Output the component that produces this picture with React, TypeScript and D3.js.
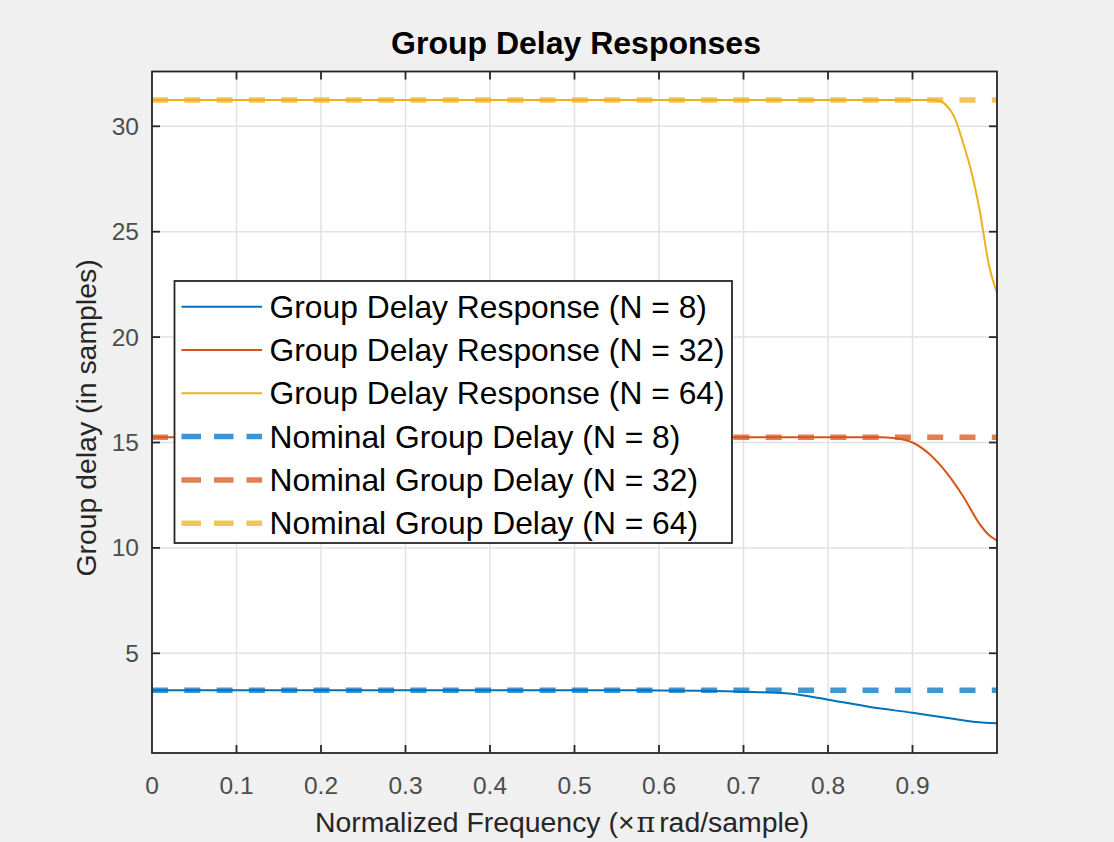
import * as d3 from "d3";

const freqN8 = [0, 0.55, 0.6, 0.65, 0.7, 0.75, 0.8, 0.85, 0.9, 0.95, 0.975, 1.0];
const delayN8 = [3.25, 3.25, 3.24, 3.22, 3.18, 3.1, 2.8, 2.45, 2.18, 1.88, 1.74, 1.68];

const freqN32 = [0, 0.86, 0.88, 0.9, 0.92, 0.94, 0.96, 0.98, 0.99, 1.0];
const delayN32 = [15.25, 15.25, 15.2, 15.0, 14.45, 13.58, 12.44, 11.1, 10.62, 10.35];

const freqN64 = [0, 0.92, 0.93, 0.94, 0.95, 0.96, 0.97, 0.98, 0.99, 1.0];
const delayN64 = [31.25, 31.25, 31.22, 31.0, 30.4, 29.2, 27.8, 25.9, 23.5, 22.09];

const nominalDelays = [3.25, 15.25, 31.25];

const seriesNames = [
  "Group Delay Response (N = 8)",
  "Group Delay Response (N = 32)",
  "Group Delay Response (N = 64)",
  "Nominal Group Delay (N = 8)",
  "Nominal Group Delay (N = 32)",
  "Nominal Group Delay (N = 64)",
];

const xTicks = [0, 0.1, 0.2, 0.3, 0.4, 0.5, 0.6, 0.7, 0.8, 0.9];
const yTicks = [5, 10, 15, 20, 25, 30];

const colors = ["#0072BD", "#D95319", "#EDB120"];

const width = 1114;
const height = 842;
const margin = { top: 71.5, right: 117, bottom: 89, left: 152 };

export default function App() {
  const boundsWidth = width - margin.left - margin.right;
  const boundsHeight = height - margin.top - margin.bottom;

  const xScale = d3.scaleLinear().domain([0, 1]).range([0, boundsWidth]);
  const yScale = d3.scaleLinear().domain([0.27, 32.6]).range([boundsHeight, 0]);

  const line = d3
    .line<[number, number]>()
    .x((d) => xScale(d[0]))
    .y((d) => yScale(d[1]))
    .curve(d3.curveMonotoneX);

  const responses = [
    d3.zip(freqN8, delayN8) as [number, number][],
    d3.zip(freqN32, delayN32) as [number, number][],
    d3.zip(freqN64, delayN64) as [number, number][],
  ];

  const axisColor = "#262626";
  const tickLen = 8;
  const font = "'Liberation Sans', Arial, sans-serif";

  const legend = { x: 174.5, y: 281, w: 557.5, h: 262, row: 43.3 };

  return (
    <div style={{ position: "fixed", left: 0, top: 0 }}>
      <svg width={width} height={height} style={{ display: "block", fontFamily: font }}>
        <rect width={width} height={height} fill="#f0f0f0" />
        <text x={576} y={54} textAnchor="middle" fontSize={32} fontWeight="bold" fill="#000">
          Group Delay Responses
        </text>
        <g transform={`translate(${margin.left},${margin.top})`}>
          <rect width={boundsWidth} height={boundsHeight} fill="#fff" />
          {/* grid */}
          {xTicks.slice(1).map((t) => (
            <line
              key={"gx" + t}
              x1={xScale(t)}
              x2={xScale(t)}
              y1={0}
              y2={boundsHeight}
              stroke="#e2e2e2"
              strokeWidth={1.5}
            />
          ))}
          {yTicks.map((t) => (
            <line
              key={"gy" + t}
              x1={0}
              x2={boundsWidth}
              y1={yScale(t)}
              y2={yScale(t)}
              stroke="#e2e2e2"
              strokeWidth={1.5}
            />
          ))}
          {/* responses */}
          {responses.map((d, i) => (
            <path key={"r" + i} d={line(d) || ""} fill="none" stroke={colors[i]} strokeWidth={2} />
          ))}
          {/* nominal */}
          {nominalDelays.map((v, i) => (
            <line
              key={"n" + i}
              x1={0}
              x2={boundsWidth}
              y1={yScale(v)}
              y2={yScale(v)}
              stroke={colors[i]}
              strokeOpacity={0.75}
              strokeWidth={5.5}
              strokeDasharray="16,16.3"
            />
          ))}
          {/* frame */}
          <rect width={boundsWidth} height={boundsHeight} fill="none" stroke={axisColor} strokeWidth={1.8} />
          {xTicks.slice(1).map((t) => (
            <g key={"tx" + t}>
              <line x1={xScale(t)} x2={xScale(t)} y1={boundsHeight} y2={boundsHeight - tickLen} stroke={axisColor} strokeWidth={1.8} />
              <line x1={xScale(t)} x2={xScale(t)} y1={0} y2={tickLen} stroke={axisColor} strokeWidth={1.8} />
            </g>
          ))}
          {yTicks.map((t) => (
            <g key={"ty" + t}>
              <line x1={0} x2={tickLen} y1={yScale(t)} y2={yScale(t)} stroke={axisColor} strokeWidth={1.8} />
              <line x1={boundsWidth} x2={boundsWidth - tickLen} y1={yScale(t)} y2={yScale(t)} stroke={axisColor} strokeWidth={1.8} />
            </g>
          ))}
          {xTicks.map((t) => (
            <text
              key={"lx" + t}
              x={xScale(t)}
              y={boundsHeight + 41}
              textAnchor="middle"
              fontSize={24.5}
              fill="#4d4d4d"
            >
              {t === 0 ? "0" : d3.format(".1f")(t)}
            </text>
          ))}
          {yTicks.map((t) => (
            <text
              key={"ly" + t}
              x={-13}
              y={yScale(t)}
              textAnchor="end"
              dominantBaseline="central"
              fontSize={24.5}
              fill="#4d4d4d"
            >
              {t}
            </text>
          ))}
        </g>
        {/* axis labels */}
        <text x={562} y={832} textAnchor="middle" fontSize={28.4} fill="#262626">
          Normalized Frequency ({"\u00d7"}
          <tspan fontFamily="'DejaVu Serif', serif" dx={2}>π</tspan>
          <tspan dx={4}>rad/sample)</tspan>
        </text>
        <text transform={`translate(96,418) rotate(-90)`} textAnchor="middle" fontSize={28.4} fill="#262626">
          Group delay (in samples)
        </text>
        {/* legend */}
        <g>
          <rect x={legend.x} y={legend.y} width={legend.w} height={legend.h} fill="#fff" stroke={axisColor} strokeWidth={1.8} />
          {seriesNames.map((name, i) => {
            const cy = legend.y + 25.7 + i * legend.row;
            const dashed = i >= 3;
            return (
              <g key={name}>
                <line
                  x1={181.5}
                  x2={262}
                  y1={cy}
                  y2={cy}
                  stroke={colors[i % 3]}
                  strokeWidth={dashed ? 5.5 : 2}
                  strokeOpacity={dashed ? 0.75 : 1}
                  strokeDasharray={dashed ? "19.5,13" : undefined}
                />
                <text x={269.5} y={cy} dominantBaseline="central" fontSize={31.8} fill="#000">
                  {name}
                </text>
              </g>
            );
          })}
        </g>
      </svg>
    </div>
  );
}
